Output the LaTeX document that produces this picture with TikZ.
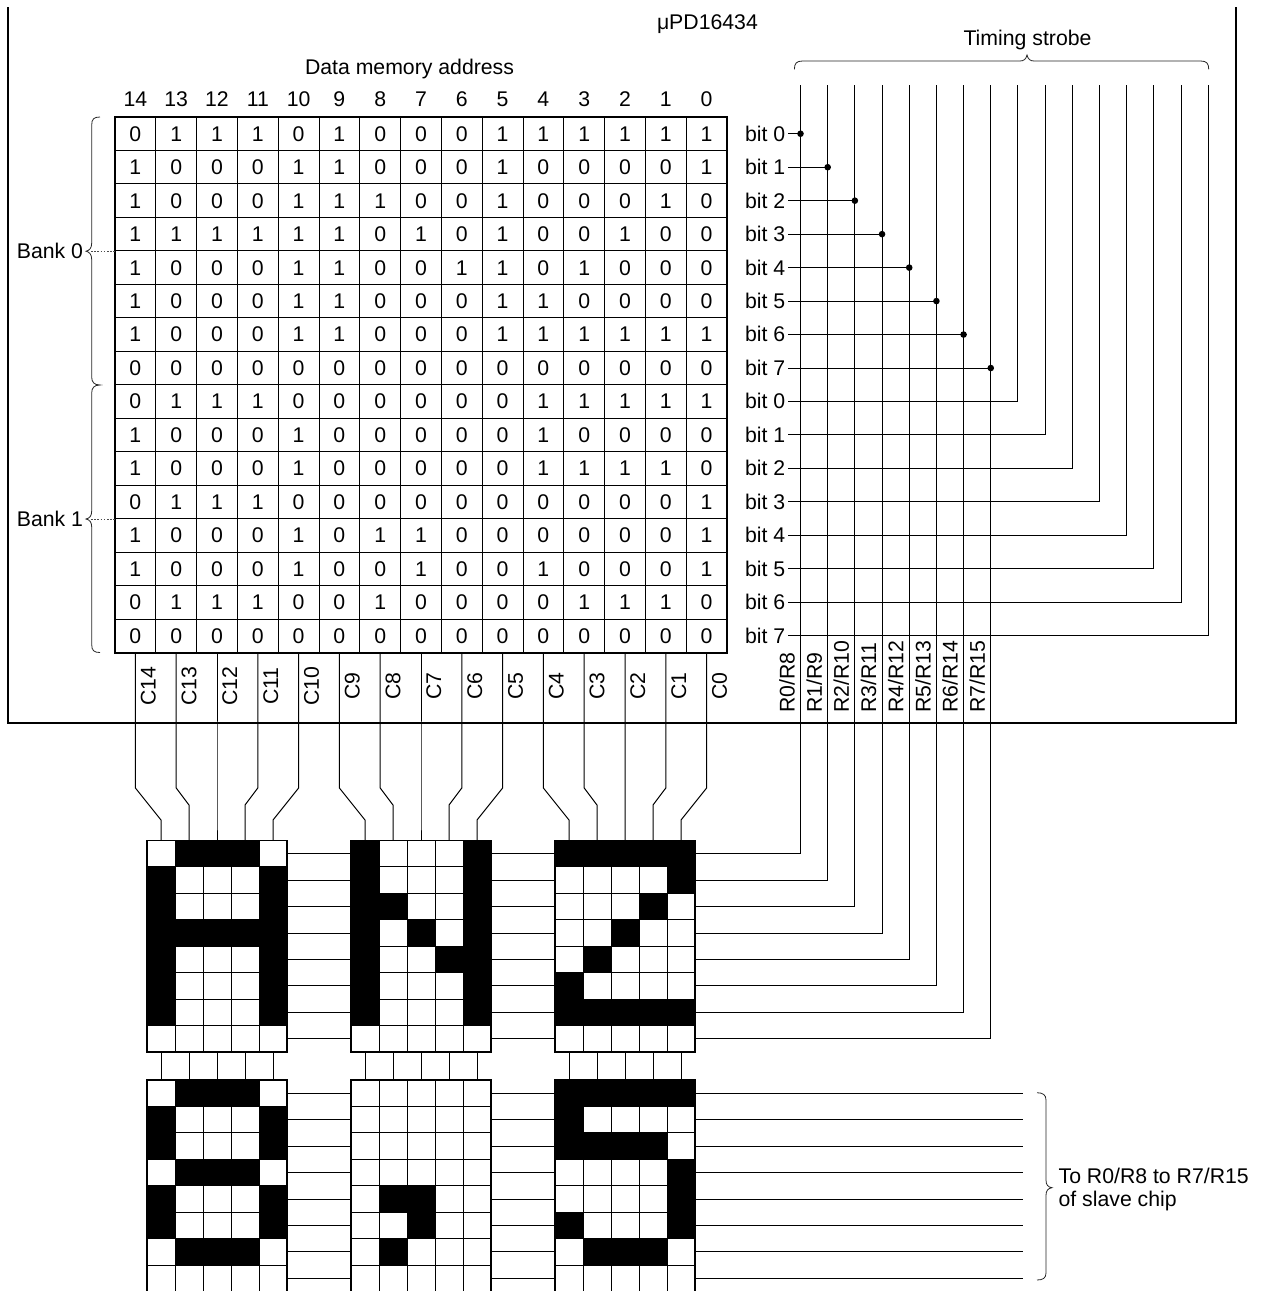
\documentclass[tikz,border=0pt]{standalone}
\usepackage{fontspec}
\setmainfont{Liberation Sans}
\def\memory{{0,1,1,1,0,1,0,0,0,1,1,1,1,1,1},
{1,0,0,0,1,1,0,0,0,1,0,0,0,0,1},
{1,0,0,0,1,1,1,0,0,1,0,0,0,1,0},
{1,1,1,1,1,1,0,1,0,1,0,0,1,0,0},
{1,0,0,0,1,1,0,0,1,1,0,1,0,0,0},
{1,0,0,0,1,1,0,0,0,1,1,0,0,0,0},
{1,0,0,0,1,1,0,0,0,1,1,1,1,1,1},
{0,0,0,0,0,0,0,0,0,0,0,0,0,0,0},
{0,1,1,1,0,0,0,0,0,0,1,1,1,1,1},
{1,0,0,0,1,0,0,0,0,0,1,0,0,0,0},
{1,0,0,0,1,0,0,0,0,0,1,1,1,1,0},
{0,1,1,1,0,0,0,0,0,0,0,0,0,0,1},
{1,0,0,0,1,0,1,1,0,0,0,0,0,0,1},
{1,0,0,0,1,0,0,1,0,0,1,0,0,0,1},
{0,1,1,1,0,0,1,0,0,0,0,1,1,1,0},
{0,0,0,0,0,0,0,0,0,0,0,0,0,0,0}}
\tikzset{
  lbl/.style={inner sep=0pt,outer sep=0pt,font=\fontsize{21.25}{25}\selectfont,text=black},
  wire/.style={line width=1pt,black},
  frameline/.style={line width=2pt,black},
  panelline/.style={line width=1.9pt,black},
  bracket/.style={line width=0.8pt,black!85},
  leader/.style={line width=0.9pt,black!70,dash pattern=on 1.6pt off 1.6pt},
}
\begin{document}
\begin{tikzpicture}[x=1pt,y=-1pt]
\useasboundingbox (0,0) rectangle (1267,1291);
% ---------- frame
\coordinate (fTL) at (7.5,7);
\coordinate (fBL) at (7.5,722.7);
\coordinate (fBR) at (1235.5,722.7);
\coordinate (fTR) at (1235.5,7);
% ---------- top labels
\node[lbl,anchor=base west] (chip) at (657,29.5) {μPD16434};
\node[lbl,anchor=base] (timing) at (1027.5,45.5) {Timing strobe};
\node[lbl,anchor=base west] (addr) at (305,74) {Data memory address};
% ---------- coordinates and memory table
\foreach \c in {0,...,14}{
  \pgfmathsetmacro{\tx}{115+40.8*(\c+0.5)}
  \pgfmathtruncatemacro{\addrv}{14-\c}
  \node[lbl,anchor=base] (head-\c) at (\tx,106) {\addrv};
}
\foreach \c in {1,...,14}{
  \pgfmathsetmacro{\gx}{115+40.8*\c}
  \draw[wire] (\gx,117) -- (\gx,652.5);
}
\foreach \r in {1,...,15}{
  \pgfmathsetmacro{\gy}{117+33.47*\r}
  \draw[wire] (115,\gy) -- (727,\gy);
}
\draw[frameline] (115,117) rectangle (727,652.5);
\foreach \rowvals [count=\r from 0] in \memory {
  \foreach \v [count=\c from 0] in \rowvals {
    \pgfmathsetmacro{\tx}{115+40.8*(\c+0.5)}
    \pgfmathsetmacro{\ty}{117+33.47*(\r+0.5)+7.4}
    \node[lbl,anchor=base] (d-\r-\c) at (\tx,\ty) {\v};
  }
}
% ---------- LED panels: grids and lit cells
\foreach \k in {0,1,2}{
  \pgfmathsetmacro{\pl}{147+204*\k}
  \pgfmathsetmacro{\pr}{\pl+140}
  \foreach \ptop/\pbot in {840.5/1052.1,1080/1291}{
    \foreach \n in {1,...,4}{
      \pgfmathsetmacro{\gx}{\pl+28*\n}
      \draw[wire] (\gx,\ptop) -- (\gx,\pbot);
    }
    \foreach \n in {1,...,7}{
      \pgfmathsetmacro{\gy}{\ptop+26.45*\n}
      \draw[wire] (\pl,\gy) -- (\pr,\gy);
    }
  }
}
\foreach \rowvals [count=\r from 0] in \memory {
  \foreach \v [count=\c from 0] in \rowvals {
    \ifnum\v=1
      \pgfmathtruncatemacro{\pk}{int(\c/5)}
      \pgfmathtruncatemacro{\pc}{\c-5*\pk}
      \pgfmathtruncatemacro{\pb}{int(\r/8)}
      \pgfmathtruncatemacro{\pq}{\r-8*\pb}
      \pgfmathsetmacro{\cx}{147+204*\pk+28*\pc}
      \pgfmathsetmacro{\cy}{(\pb==0?840.5:1080)+26.45*\pq}
      \fill[black] (\cx,\cy) rectangle ++(28,26.45);
    \fi
  }
}
\foreach \k in {0,1,2}{
  \pgfmathsetmacro{\pl}{147+204*\k}
  \pgfmathsetmacro{\pr}{\pl+140}
  \draw[panelline] (\pl,840.5) rectangle (\pr,1052.1);
  \draw[panelline] (\pl,1291) -- (\pl,1080) -- (\pr,1080) -- (\pr,1291);
}
% ---------- named points of the connectors
\foreach \i in {0,...,15}{
  \pgfmathsetmacro{\sx}{800.5+27.18*\i}
  \pgfmathsetmacro{\by}{117+33.47*(\i+0.5)}
  \pgfmathtruncatemacro{\pb}{int(\i/8)}
  \pgfmathtruncatemacro{\pq}{\i-8*\pb}
  \pgfmathsetmacro{\wy}{(\pb==0?840.5:1080)+26.45*(\pq+0.5)}
  \coordinate (sTop-\i) at (\sx,85);
  \coordinate (bit-\i) at (788,\by);
  \coordinate (wR0-\i) at (287,\wy);
  \coordinate (wL1-\i) at (351,\wy);
  \coordinate (wR1-\i) at (491,\wy);
  \coordinate (wL2-\i) at (555,\wy);
  \coordinate (wR2-\i) at (695,\wy);
  \coordinate (wEnd-\i) at (1023,\wy);
  \pgfmathsetmacro{\ly}{\by+7.4}
  \node[lbl,anchor=base west] (bl-\i) at (745,\ly) {bit \pq};
}
% ---------- row wires
\foreach \i in {0,...,15}{
  \draw[wire] (wR0-\i) -- (wL1-\i);
  \draw[wire] (wR1-\i) -- (wL2-\i);
}
\foreach \i in {0,...,7}{
  \draw[wire] (sTop-\i) |- (wR2-\i);
  \draw[wire] (bit-\i) -- (bit-\i -| sTop-\i);
  \fill[black] (bit-\i -| sTop-\i) circle (3.3pt);
}
\foreach \i in {8,...,15}{
  \draw[wire] (wR2-\i) -- (wEnd-\i);
  \draw[wire] (bit-\i) -| (sTop-\i);
}
% ---------- R labels
\foreach \i/\t in {0/R0\slash R8,1/R1\slash R9,2/R2\slash R10,3/R3\slash R11,4/R4\slash R12,5/R5\slash R13,6/R6\slash R14,7/R7\slash R15}{
  \pgfmathsetmacro{\sx}{794.6+27.18*\i}
  \node[lbl,rotate=90,anchor=base west] (rl-\i) at (\sx,712.8) {\t};
}
% ---------- column wires
\foreach \c in {0,...,14}{
  \pgfmathsetmacro{\tx}{115+40.8*(\c+0.5)}
  \pgfmathtruncatemacro{\pk}{int(\c/5)}
  \pgfmathtruncatemacro{\pc}{\c-5*\pk}
  \pgfmathsetmacro{\px}{161+204*\pk+28*\pc}
  \pgfmathsetmacro{\ky}{\pc==1||\pc==3?805:820}
  \coordinate (colTop-\c) at (\tx,652.5);
  \coordinate (kneeA-\c) at (\tx,788);
  \coordinate (kneeB-\c) at (\px,\ky);
  \coordinate (pinA-\c) at (\px,840.5);
  \coordinate (pinB-\c) at (\px,1052.1);
  \coordinate (pinC-\c) at (\px,1080);
  \draw[wire] (colTop-\c) -- (kneeA-\c) -- (kneeB-\c) -- (pinA-\c);
  \draw[wire] (pinB-\c) -- (pinC-\c);
  \pgfmathtruncatemacro{\cn}{14-\c}
  \pgfmathsetmacro{\lx}{\tx+20.2}
  \node[lbl,rotate=90,anchor=base] (cl-\c) at (\lx,686) {C\cn};
}
% ---------- frame on top of wires
\draw[frameline] (fTL) -- (fBL) -- (fBR) -- (fTR);
% ---------- braces
\coordinate (tbL) at (794.4,69.3);
\coordinate (tbTip) at (1027,55);
\coordinate (tbR) at (1208.7,69.3);
\draw[bracket] (tbL) .. controls (794.4,63.5) and (796.5,61) .. (802.5,61) -- (1020,61)
  .. controls (1024,61) and (1026,59) .. (tbTip) .. controls (1028,59) and (1030,61) .. (1034,61)
  -- (1200.7,61) .. controls (1206.7,61) and (1208.7,63.5) .. (tbR);
\node[lbl,anchor=base east] (bank0) at (83,258.5) {Bank 0};
\node[lbl,anchor=base east] (bank1) at (83,526.2) {Bank 1};
\coordinate (b0T) at (100,117);
\coordinate (b0Tip) at (86,251.2);
\coordinate (bMid) at (100,385);
\coordinate (b1Tip) at (86,519);
\coordinate (b1B) at (100,652.5);
\draw[bracket] (b0T) .. controls (94,117) and (91.7,119) .. (91.7,125) -- (91.7,243)
  .. controls (91.7,248) and (89.5,250.5) .. (b0Tip) .. controls (89.5,252) and (91.7,254.5) .. (91.7,259.5)
  -- (91.7,377) .. controls (91.7,382) and (94,385) .. (bMid)
  .. controls (94,385) and (91.7,388) .. (91.7,393) -- (91.7,511)
  .. controls (91.7,516) and (89.5,518.3) .. (b1Tip) .. controls (89.5,519.7) and (91.7,522) .. (91.7,527)
  -- (91.7,644.5) .. controls (91.7,650.5) and (94,652.5) .. (b1B);
\draw[leader] (b0Tip) ++(5,0) -- (115,251.2);
\draw[leader] (b1Tip) ++(5,0) -- (115,519);
\coordinate (sbT) at (1037,1092.7);
\coordinate (sbTip) at (1052,1187.7);
\coordinate (sbB) at (1037,1280);
\draw[bracket] (sbT) .. controls (1043,1092.7) and (1046,1095) .. (1046,1100) -- (1046,1180)
  .. controls (1046,1185) and (1048,1187) .. (sbTip) .. controls (1048,1188.4) and (1046,1190.4) .. (1046,1195.4)
  -- (1046,1273) .. controls (1046,1278) and (1043,1280) .. (sbB);
\node[lbl,anchor=base west] (slave1) at (1058.6,1183) {To R0/R8 to R7/R15};
\node[lbl,anchor=base west] (slave2) at (1058.6,1206.7) {of slave chip};
\end{tikzpicture}
\end{document}
